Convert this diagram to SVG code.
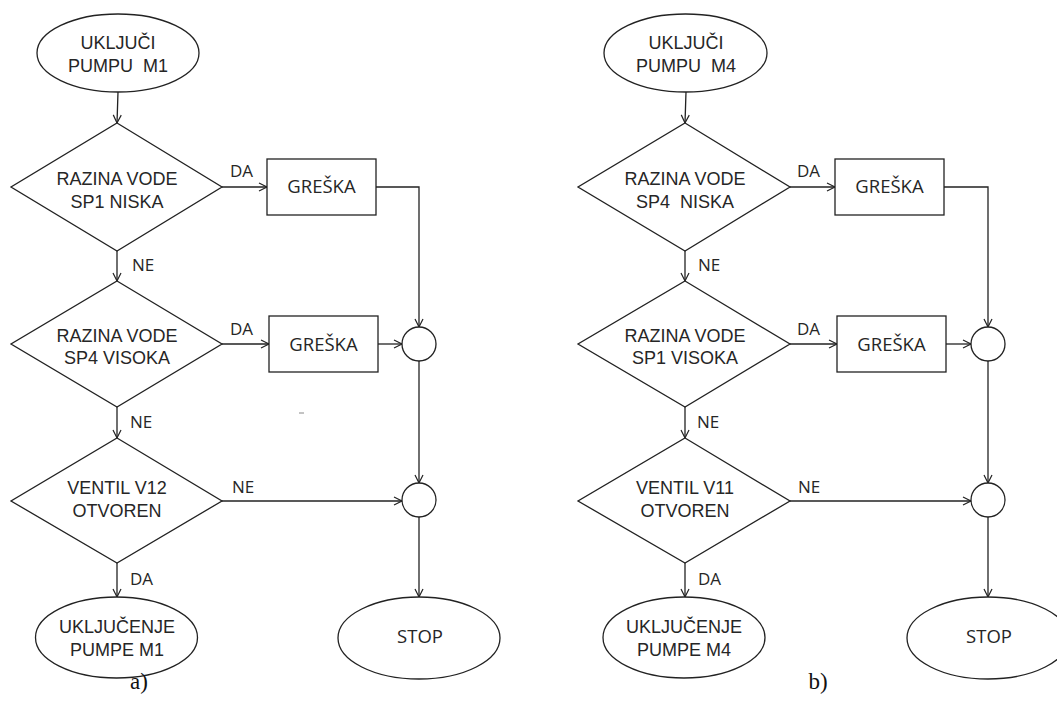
<svg xmlns="http://www.w3.org/2000/svg" width="1057" height="704" viewBox="0 0 1057 704">
<defs>
<marker id="arr" markerUnits="userSpaceOnUse" markerWidth="12" markerHeight="12" refX="9" refY="5" orient="auto">
<path d="M1,1 L9,5 L1,9" fill="none" stroke="#222" stroke-width="1.2"/>
</marker>
</defs>
<style>
.shape{fill:#fff;stroke:#222;stroke-width:1.3}
.con{fill:none;stroke:#222;stroke-width:1.3;marker-end:url(#arr)}
.t{font-family:"Liberation Sans",Arial,sans-serif;font-size:18px;fill:#262626;text-anchor:middle}
.c{font-family:"Open Sans","Lato",sans-serif;font-size:18.5px;fill:#262626;text-anchor:middle}
.lbl{font-family:"Open Sans","Lato",sans-serif;font-size:17px;fill:#262626}
.cap{font-family:"Liberation Serif","Times New Roman",serif;font-size:23px;fill:#111;text-anchor:middle}
</style>
<rect width="1057" height="704" fill="#fff"/>

<g id="connectors">
<!-- a -->
<path class="con" d="M118,92 L117,123"/>
<path class="con" d="M222,187 L267,187"/>
<path class="con" d="M117,251 L117,281"/>
<path class="con" d="M222,344 L269,344"/>
<path class="con" d="M117,407 L117,438"/>
<path class="con" d="M376,187 L419,187 L419,327"/>
<path class="con" d="M378,344 L402,344"/>
<path class="con" d="M419,361 L419,483"/>
<path class="con" d="M222,501 L402,501"/>
<path class="con" d="M117,563 L117,597"/>
<path class="con" d="M419,517 L419,597"/>
<!-- b -->
<path class="con" d="M686,92 L685,123"/>
<path class="con" d="M790,187 L835,187"/>
<path class="con" d="M685,251 L685,281"/>
<path class="con" d="M790,344 L837,344"/>
<path class="con" d="M685,407 L685,438"/>
<path class="con" d="M944,187 L988,187 L988,327"/>
<path class="con" d="M946,344 L971,344"/>
<path class="con" d="M988,361 L988,483"/>
<path class="con" d="M790,501 L971,501"/>
<path class="con" d="M685,563 L685,597"/>
<path class="con" d="M988,517 L988,597"/>
</g>

<g id="labels">
<text class="lbl" x="230" y="177">DA</text>
<text class="lbl" x="132" y="271">NE</text>
<text class="lbl" x="230" y="335">DA</text>
<text class="lbl" x="130" y="428">NE</text>
<text class="lbl" x="232" y="493">NE</text>
<text class="lbl" x="130" y="585">DA</text>
<text class="lbl" x="797" y="177">DA</text>
<text class="lbl" x="698" y="271">NE</text>
<text class="lbl" x="797" y="335">DA</text>
<text class="lbl" x="697" y="428">NE</text>
<text class="lbl" x="798" y="493">NE</text>
<text class="lbl" x="698" y="585">DA</text>
</g>

<!-- diagram a -->
<g id="a_start">
<ellipse class="shape" cx="118" cy="53" rx="81" ry="39"/>
<text class="t" x="118" y="49">UKLJUČI</text>
<text class="t" x="118" y="72" xml:space="preserve">PUMPU  M1</text>
</g>
<g id="a_dec1">
<polygon class="shape" points="117,123 222,187 117,251 11,187"/>
<text class="t" x="117" y="185">RAZINA VODE</text>
<text class="t" x="117" y="208">SP1 NISKA</text>
</g>
<g id="a_err1">
<rect class="shape" x="267" y="159" width="109" height="56"/>
<text class="c" x="321.5" y="193">GREŠKA</text>
</g>
<g id="a_dec2">
<polygon class="shape" points="117,281 222,344 117,407 11,344"/>
<text class="t" x="117" y="342">RAZINA VODE</text>
<text class="t" x="117" y="364">SP4 VISOKA</text>
</g>
<g id="a_err2">
<rect class="shape" x="269" y="316" width="109" height="56"/>
<text class="c" x="323.5" y="351">GREŠKA</text>
</g>
<g id="a_join1"><circle class="shape" cx="419" cy="344" r="17"/></g>
<g id="a_dec3">
<polygon class="shape" points="117,438 222,501 117,563 11,501"/>
<text class="t" x="117" y="494">VENTIL V12</text>
<text class="t" x="117" y="517">OTVOREN</text>
</g>
<g id="a_join2"><circle class="shape" cx="419" cy="500" r="17"/></g>
<g id="a_end">
<ellipse class="shape" cx="116.5" cy="637.5" rx="81" ry="40.5"/>
<text class="t" x="117" y="633">UKLJUČENJE</text>
<text class="t" x="117" y="656">PUMPE M1</text>
</g>
<g id="a_stop">
<ellipse class="shape" cx="419" cy="638" rx="81" ry="41"/>
<text class="c" x="420" y="643">STOP</text>
</g>
<text class="cap" x="139" y="689">a)</text>
<line x1="299" y1="413" x2="304" y2="413" stroke="#888" stroke-width="1"/>

<!-- diagram b -->
<g id="b_start">
<ellipse class="shape" cx="685.5" cy="53" rx="81.5" ry="39"/>
<text class="t" x="686" y="49">UKLJUČI</text>
<text class="t" x="686" y="72" xml:space="preserve">PUMPU  M4</text>
</g>
<g id="b_dec1">
<polygon class="shape" points="685,123 790,187 685,251 578,187"/>
<text class="t" x="685" y="185">RAZINA VODE</text>
<text class="t" x="685" y="208" xml:space="preserve">SP4  NISKA</text>
</g>
<g id="b_err1">
<rect class="shape" x="835" y="159" width="109" height="56"/>
<text class="c" x="889.5" y="193">GREŠKA</text>
</g>
<g id="b_dec2">
<polygon class="shape" points="685,281 790,344 685,407 578,344"/>
<text class="t" x="685" y="342">RAZINA VODE</text>
<text class="t" x="685" y="364">SP1 VISOKA</text>
</g>
<g id="b_err2">
<rect class="shape" x="837" y="316" width="109" height="56"/>
<text class="c" x="891.5" y="351">GREŠKA</text>
</g>
<g id="b_join1"><circle class="shape" cx="988" cy="344" r="17"/></g>
<g id="b_dec3">
<polygon class="shape" points="685,438 790,501 685,563 578,501"/>
<text class="t" x="685" y="494">VENTIL V11</text>
<text class="t" x="685" y="517">OTVOREN</text>
</g>
<g id="b_join2"><circle class="shape" cx="988" cy="500" r="17"/></g>
<g id="b_end">
<ellipse class="shape" cx="684" cy="637.5" rx="81" ry="40.5"/>
<text class="t" x="684" y="633">UKLJUČENJE</text>
<text class="t" x="684" y="656">PUMPE M4</text>
</g>
<g id="b_stop">
<ellipse class="shape" cx="988" cy="638" rx="81" ry="41"/>
<text class="c" x="989" y="643">STOP</text>
</g>
<text class="cap" x="818" y="689">b)</text>
</svg>
